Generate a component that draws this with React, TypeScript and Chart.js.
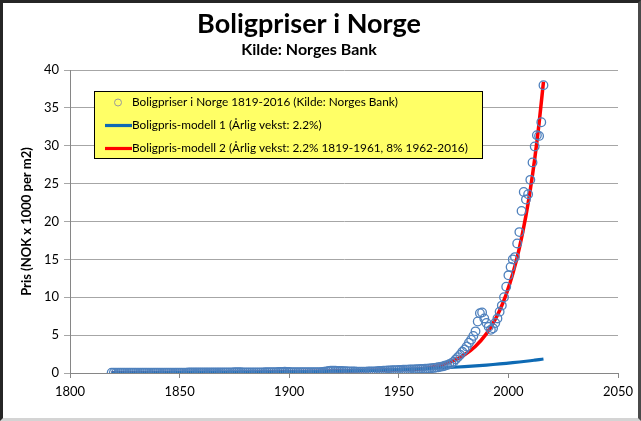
import React, { useEffect, useRef } from "react";
import { Chart, registerables } from "chart.js";

Chart.register(...registerables);

const TITLE = "Boligpriser i Norge";
const SUBTITLE = "Kilde: Norges Bank";
const Y_TITLE = "Pris (NOK x 1000 per m2)";
const FONT = "Lato";

const X_MIN = 1800;
const X_MAX = 2050;
const X_STEP = 50;
const Y_MIN = 0;
const Y_MAX = 40;
const Y_STEP = 5;

const SERIES_LABELS = [
  "Boligpriser i Norge 1819-2016 (Kilde: Norges Bank)",
  "Boligpris-modell 1 (Årlig vekst: 2.2%)",
  "Boligpris-modell 2 (Årlig vekst: 2.2% 1819-1961, 8% 1962-2016)",
];

// Observed prices, one value per year starting 1819 (NOK x 1000 per m2)
const FIRST_YEAR = 1819;
const priceValues = [
  0.03,
  0.03, 0.03, 0.03, 0.03, 0.03, 0.03, 0.03, 0.03, 0.03, 0.03,
  0.03, 0.03, 0.03, 0.03, 0.03, 0.03, 0.04, 0.04, 0.04, 0.04,
  0.04, 0.04, 0.04, 0.04, 0.04, 0.04, 0.04, 0.04, 0.04, 0.04,
  0.05, 0.05, 0.05, 0.05, 0.06, 0.06, 0.06, 0.06, 0.06, 0.06,
  0.06, 0.06, 0.06, 0.06, 0.06, 0.06, 0.06, 0.06, 0.06, 0.06,
  0.07, 0.07, 0.07, 0.08, 0.08, 0.09, 0.09, 0.09, 0.09, 0.08,
  0.08, 0.08, 0.08, 0.08, 0.08, 0.08, 0.08, 0.08, 0.08, 0.09,
  0.09, 0.1, 0.1, 0.11, 0.12, 0.13, 0.14, 0.15, 0.16, 0.15,
  0.13, 0.12, 0.11, 0.11, 0.11, 0.11, 0.11, 0.11, 0.11, 0.11,
  0.11, 0.11, 0.12, 0.12, 0.12, 0.13, 0.16, 0.2, 0.26, 0.3,
  0.32, 0.3, 0.28, 0.26, 0.26, 0.25, 0.23, 0.21, 0.2, 0.2,
  0.19, 0.18, 0.18, 0.18, 0.18, 0.18, 0.19, 0.19, 0.2, 0.21,
  0.23, 0.26, 0.28, 0.3, 0.32, 0.33, 0.35, 0.36, 0.37, 0.38,
  0.39, 0.41, 0.43, 0.44, 0.45, 0.46, 0.47, 0.48, 0.49, 0.5,
  0.52, 0.54, 0.56, 0.58, 0.61, 0.64, 0.67, 0.71, 0.76, 0.81,
  0.87, 0.95, 1.04, 1.15, 1.3, 1.5, 1.8, 2.1, 2.4, 2.8,
  3.1, 3.5, 4.0, 4.4, 4.9, 5.5, 6.8, 7.9, 8.0, 7.2,
  6.6, 6.1, 5.7, 5.9, 6.6, 7.2, 8.1, 8.9, 10.0, 11.4,
  12.9, 14.0, 15.0, 15.3, 17.1, 18.6, 21.4, 23.9, 22.9, 23.6,
  25.5, 27.8, 29.9, 31.4, 31.3, 33.1, 38.0,
];

// Model curves at selected years
const modelYears = [
  1819, 1830, 1850, 1870, 1890, 1910, 1930, 1950, 1961, 1965, 1970, 1975,
  1980, 1985, 1990, 1993, 1996, 1999, 2002, 2005, 2008, 2010, 2012, 2014, 2016,
];
const model1Values = [
  0.025, 0.032, 0.05, 0.077, 0.119, 0.184, 0.284, 0.438, 0.558, 0.609, 0.679, 0.757,
  0.844, 0.941, 1.049, 1.119, 1.195, 1.276, 1.362, 1.454, 1.552, 1.62, 1.693, 1.768, 1.847,
];
const model2Values = [
  0.025, 0.032, 0.05, 0.077, 0.119, 0.184, 0.284, 0.438, 0.558, 0.759, 1.115, 1.639,
  2.408, 3.538, 5.199, 6.549, 8.25, 10.39, 13.09, 16.49, 20.77, 24.23, 28.26, 32.97, 38.45,
];

const SCATTER_COLOR = "#4f81bd";
const MODEL1_COLOR = "#0e6ab4";
const MODEL2_COLOR = "#ff0000";

const boxLegend = {
  id: "boxLegend",
  afterDraw(chart: any) {
    const { ctx, chartArea } = chart;
    const x = chartArea.left + 24;
    const y = chartArea.top + 21;
    const w = 389;
    const h = 68;
    ctx.save();
    ctx.fillStyle = "#ffff66";
    ctx.fillRect(x, y, w, h);
    ctx.strokeStyle = "#000";
    ctx.lineWidth = 1;
    ctx.strokeRect(x + 0.5, y + 0.5, w - 1, h - 1);
    ctx.font = `11.8px ${FONT}`;
    ctx.textBaseline = "middle";
    ctx.fillStyle = "#000";
    const rows = chart.data.datasets;
    rows.forEach((ds: any, i: number) => {
      const cy = y + 11.5 + i * 23;
      if (!ds.showLine) {
        ctx.beginPath();
        ctx.arc(x + 24, cy, 3.5, 0, Math.PI * 2);
        ctx.strokeStyle = "#9a9a9a";
        ctx.lineWidth = 1;
        ctx.stroke();
      } else {
        ctx.beginPath();
        ctx.moveTo(x + 11, cy);
        ctx.lineTo(x + 38, cy);
        ctx.strokeStyle = ds.borderColor;
        ctx.lineWidth = 3.2;
        ctx.stroke();
      }
      ctx.fillStyle = "#000";
      ctx.fillText(ds.label, x + 38, cy);
    });
    ctx.restore();
  },
};

export default function App() {
  const ref = useRef<HTMLCanvasElement>(null);

  useEffect(() => {
    const tickFont = { family: FONT, size: 13 };
    const chart = new Chart(ref.current!, {
      type: "scatter",
      data: {
        datasets: [
          {
            label: SERIES_LABELS[0],
            data: priceValues.map((v, i) => ({ x: FIRST_YEAR + i, y: v })),
            showLine: false,
            pointRadius: 4.3,
            pointBorderWidth: 1.3,
            borderColor: SCATTER_COLOR,
            backgroundColor: "rgba(0,0,0,0)",
            pointBackgroundColor: "rgba(0,0,0,0)",
          },
          {
            label: SERIES_LABELS[1],
            data: modelYears.map((yr, i) => ({ x: yr, y: model1Values[i] })),
            showLine: true,
            pointRadius: 0,
            borderColor: MODEL1_COLOR,
            backgroundColor: MODEL1_COLOR,
            borderWidth: 3.2,
            cubicInterpolationMode: "monotone",
          },
          {
            label: SERIES_LABELS[2],
            data: modelYears.map((yr, i) => ({ x: yr, y: model2Values[i] })),
            showLine: true,
            pointRadius: 0,
            borderColor: MODEL2_COLOR,
            backgroundColor: MODEL2_COLOR,
            borderWidth: 3.5,
            cubicInterpolationMode: "monotone",
          },
        ],
      } as any,
      options: {
        responsive: false,
        animation: false,
        devicePixelRatio: 1,
        events: [],
        layout: { padding: { left: 0, right: 23, top: 0, bottom: 0 } },
        plugins: {
          legend: { display: false },
          tooltip: { enabled: false },
          title: {
            display: true,
            text: TITLE,
            color: "#000",
            font: { family: FONT, size: 27, weight: "bold" },
            padding: { top: 8, bottom: 0 },
          },
          subtitle: {
            display: true,
            text: SUBTITLE,
            color: "#000",
            font: { family: FONT, size: 16, weight: "bold" },
            padding: { top: 0, bottom: 10.4 },
          },
        },
        scales: {
          x: {
            type: "linear",
            min: X_MIN,
            max: X_MAX,
            ticks: {
              stepSize: X_STEP,
              color: "#000",
              font: tickFont,
              padding: 6,
              maxRotation: 0,
              callback: (v: any) => String(v),
            },
            grid: { drawOnChartArea: false, drawTicks: true, tickLength: 5, color: "#868686" },
            border: { color: "#868686" },
            afterFit(s: any) {
              s.height = 48;
            },
          },
          y: {
            min: Y_MIN,
            max: Y_MAX,
            ticks: {
              stepSize: Y_STEP,
              color: "#000",
              font: tickFont,
              padding: 5,
              callback: (v: any) => String(v),
            },
            grid: { color: "#a6a6a6", drawTicks: true, tickLength: 6 },
            border: { color: "#868686" },
            title: {
              display: true,
              text: Y_TITLE,
              color: "#000",
              font: { family: FONT, size: 13, weight: "bold" },
              padding: { top: 19, bottom: 0 },
            },
            afterFit(s: any) {
              s.width = 70;
            },
          },
        },
      } as any,
      plugins: [boxLegend],
    });
    return () => chart.destroy();
  }, []);

  return (
    <div style={{ position: "fixed", left: 0, top: 0, width: 641, height: 421, background: "#fff" }}>
      <canvas ref={ref} width={641} height={421} style={{ display: "block", width: 641, height: 421 }} />
      <div
        style={{
          position: "absolute",
          inset: 0,
          boxSizing: "border-box",
          borderTop: "3px solid #262626",
          borderLeft: "3px solid #262626",
          borderRight: "3px solid #4a4a4a",
          borderBottom: "3px solid #d4d4d4",
          pointerEvents: "none",
        }}
      />
    </div>
  );
}
